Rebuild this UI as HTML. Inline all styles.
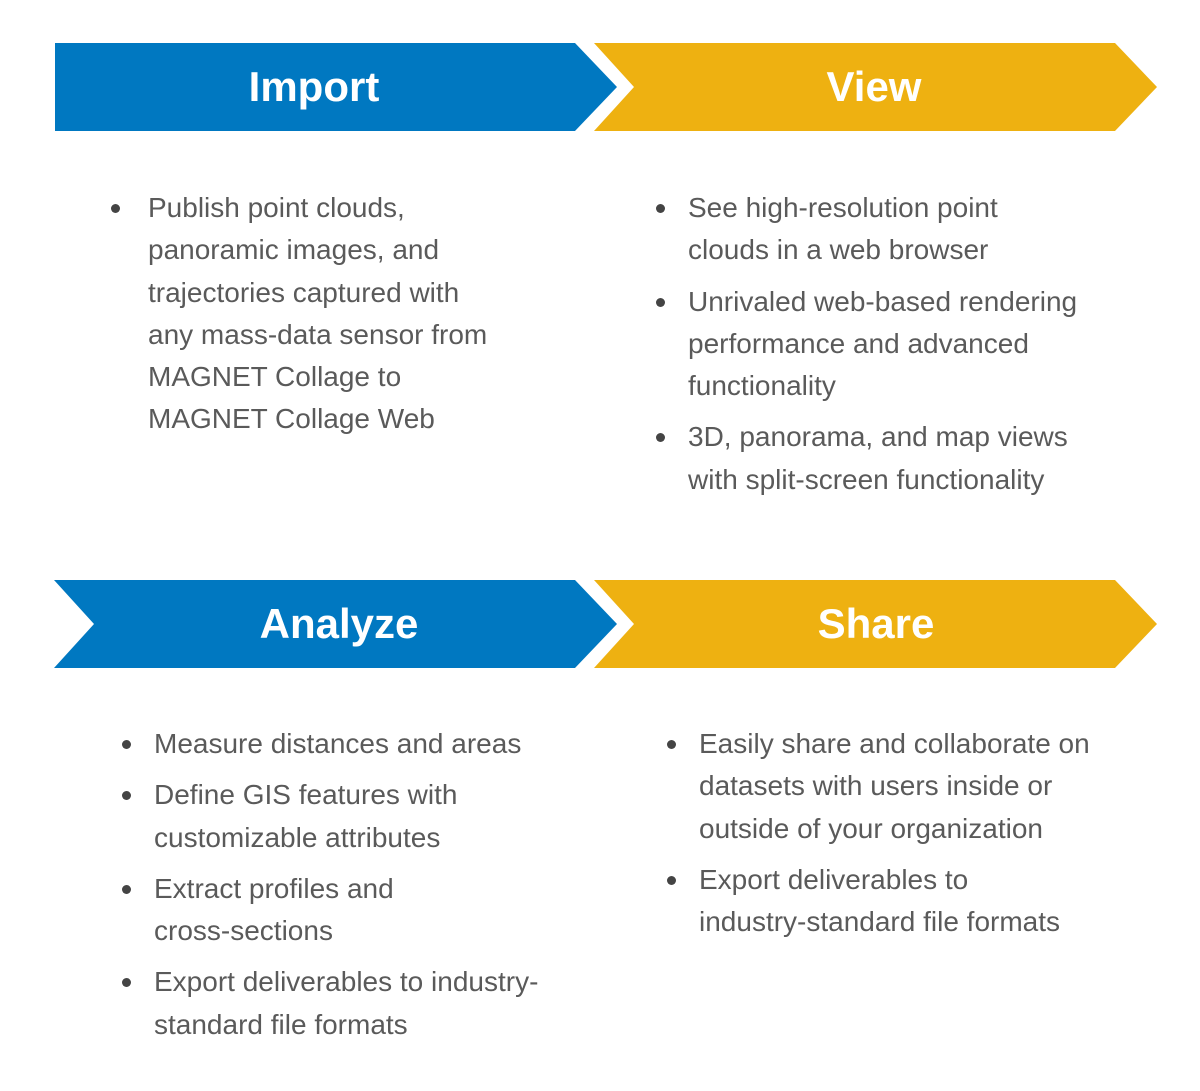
<!DOCTYPE html>
<html><head><style>
body{margin:0;width:1200px;height:1091px;background:#fff;position:relative;overflow:hidden;font-family:"Liberation Sans",Arial,sans-serif}
svg{position:absolute;left:0;top:0}
.t{position:absolute;color:#fff;font-weight:bold;font-size:42px;line-height:88px;text-align:center;width:400px}
ul{position:absolute;margin:0;padding:0;list-style:none;color:#5a5a5a;font-size:28px;line-height:42.3px;letter-spacing:0px}
li{position:relative;margin-bottom:9px}
li:before{content:"";position:absolute;width:9px;height:9px;border-radius:50%;background:#444;top:17px}
</style></head><body>
<svg width="1200" height="1091">
<polygon points="55,43 575,43 617,87 575,131 55,131" fill="#0078c1"/>
<polygon points="594,43 1115,43 1157,87 1115,131 594,131 634,87" fill="#eeb111"/>
<polygon points="54,580 575,580 617,624 575,668 54,668 94,624" fill="#0078c1"/>
<polygon points="594,580 1115,580 1157,624 1115,668 594,668 634,624" fill="#eeb111"/>
</svg>
<div class="t" style="left:114px;top:43px">Import</div>
<div class="t" style="left:674px;top:43px">View</div>
<div class="t" style="left:139px;top:580px">Analyze</div>
<div class="t" style="left:676px;top:580px">Share</div>
<ul style="left:148px;top:187px;width:420px"><li>Publish point clouds,<br>panoramic images, and<br>trajectories captured with<br>any mass-data sensor from<br>MAGNET Collage to<br>MAGNET Collage Web</li></ul>
<ul style="left:688px;top:187px;width:480px"><li>See high-resolution point<br>clouds in a web browser</li><li>Unrivaled web-based rendering<br>performance and advanced<br>functionality</li><li>3D, panorama, and map views<br>with split-screen functionality</li></ul>
<ul style="left:154px;top:723px;width:460px"><li>Measure distances and areas</li><li>Define GIS features with<br>customizable attributes</li><li>Extract profiles and<br>cross-sections</li><li>Export deliverables to industry-<br>standard file formats</li></ul>
<ul style="left:699px;top:723px;width:480px"><li>Easily share and collaborate on<br>datasets with users inside or<br>outside of your organization</li><li>Export deliverables to<br>industry-standard file formats</li></ul>
<style>
ul:nth-of-type(1) li:before{left:-37px}
ul:nth-of-type(2) li:before{left:-32px}
ul:nth-of-type(3) li:before{left:-32px}
ul:nth-of-type(4) li:before{left:-32px}
</style>
</body></html>
